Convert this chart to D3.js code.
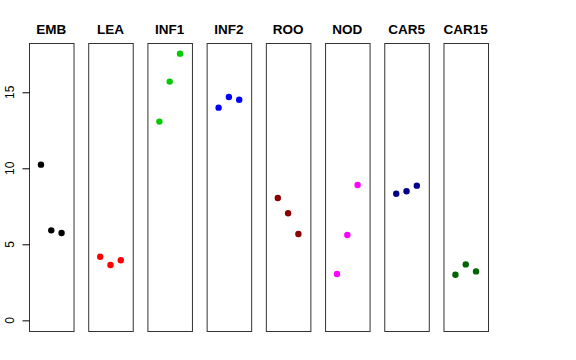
<!DOCTYPE html>
<html><head><meta charset="utf-8">
<script src="https://cdn.jsdelivr.net/npm/d3@7"></script>
<style>body{margin:0;background:#fff}svg{display:block}</style>
</head><body>
<svg id="c" width="576" height="360"></svg>
<script>
const categories = ["EMB","LEA","INF1","INF2","ROO","NOD","CAR5","CAR15"];
const colors = ["#000000","#FF0000","#00CD00","#0000FF","#8B0000","#FF00FF","#00008B","#006400"];
const replicate1 = [10.24, 4.18, 13.07, 13.99, 8.05, 3.05, 8.33, 3.00];
const replicate2 = [5.92, 3.64, 15.70, 14.69, 7.04, 5.61, 8.49, 3.68];
const replicate3 = [5.74, 3.95, 17.54, 14.51, 5.68, 8.90, 8.86, 3.22];
const yTicks = [0, 5, 10, 15];

const svg = d3.select("#c");
const y = d3.scaleLinear().domain([-0.7, 18.24]).range([331, 43]);
const panelX = d3.scaleBand().domain(categories).range([29, 488]).paddingInner(0.248).paddingOuter(0);
const bw = panelX.bandwidth();
const xi = d3.scaleLinear().domain([1, 3]).range([-10.3, 10.3]);

categories.forEach((c, i) => {
  const g = svg.append("g").attr("transform", `translate(${panelX(c)},0)`);
  g.append("rect").attr("x", 0.5).attr("y", y.range()[1] + 0.5)
    .attr("width", bw).attr("height", y.range()[0] - y.range()[1])
    .attr("fill", "none").attr("stroke", "#333").attr("stroke-width", 1);
  g.append("text").attr("x", bw / 2).attr("y", 34).attr("text-anchor", "middle")
    .attr("font-family", "Liberation Sans, Arial, sans-serif").attr("font-weight", "bold")
    .attr("font-size", 13.5).text(c);
  const vals = [replicate1[i], replicate2[i], replicate3[i]];
  g.selectAll("circle").data(vals).join("circle")
    .attr("cx", (d, j) => bw / 2 + xi(j + 1)).attr("cy", d => y(d))
    .attr("r", 3.2).attr("fill", colors[i]);
});

const ax = svg.append("g").attr("transform", "translate(29.5,0)")
  .call(d3.axisLeft(y).tickValues(yTicks).tickSize(7).tickPadding(0).tickSizeOuter(0));
ax.select(".domain").remove();
ax.selectAll("line").attr("stroke", "#000");
ax.selectAll("text").remove();
svg.selectAll(".ylab").data(yTicks).join("text").attr("class", "ylab")
  .attr("transform", d => `translate(14,${y(d)}) rotate(-90)`)
  .attr("text-anchor", "middle")
  .attr("font-family", "Liberation Sans, Arial, sans-serif").attr("font-size", 12)
  .text(d => d);
</script>
</body></html>
